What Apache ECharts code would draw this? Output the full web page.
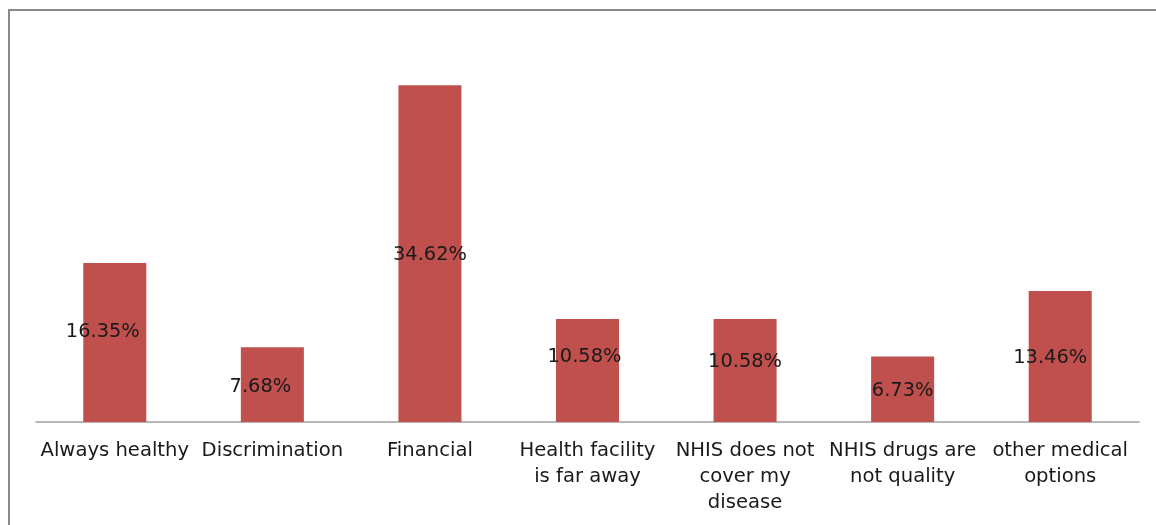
<!DOCTYPE html>
<html>
<head>
<meta charset="utf-8">
<script src="https://cdn.jsdelivr.net/npm/echarts@6/dist/echarts.min.js"></script>
<style>
  html, body { margin: 0; padding: 0; background: #fff; }
  #chart { width: 1156px; height: 525px; }
</style>
</head>
<body>
<div id="chart"></div>
<script>
// Reasons given for not using NHIS (share of respondents, %)
const categories = [
  'Always healthy',
  'Discrimination',
  'Financial',
  'Health facility\nis far away',
  'NHIS does not\ncover my\ndisease',
  'NHIS drugs are\nnot quality',
  'other medical\noptions'
];
const shares = [16.35, 7.68, 34.62, 10.58, 10.58, 6.73, 13.46];

// Hand-placed label nudges [dx, dy] in pixels
const labelNudges = [[-12, -11], [-12, 2], [0, 1], [-3, -14], [0, -9], [0, 2], [-10, 1]];

const chart = echarts.init(document.getElementById('chart'));

const seriesData = shares.map((v, i) => ({
  value: v,
  label: { offset: labelNudges[i] }
}));

chart.setOption({
  animation: false,
  backgroundColor: '#ffffff',
  graphic: [{
    type: 'rect',
    shape: { x: 9, y: 10, width: 1300, height: 700 },
    style: { fill: 'none', stroke: '#8a8a8a', lineWidth: 2 },
    silent: true
  }],
  grid: { left: 36, right: 17, top: 33, bottom: 103, containLabel: false },
  xAxis: {
    type: 'category',
    data: categories,
    axisLine: { lineStyle: { color: '#a0a0a0', width: 1.5 } },
    axisTick: { show: false },
    axisLabel: {
      interval: 0,
      hideOverlap: false,
      margin: 16,
      color: '#1a1a1a',
      fontFamily: 'DejaVu Sans',
      fontSize: 19.6,
      lineHeight: 26,
      align: 'center'
    }
  },
  yAxis: {
    type: 'value',
    min: 0,
    max: 40,
    show: false,
    splitLine: { show: false }
  },
  series: [{
    type: 'bar',
    data: seriesData,
    barWidth: '40%',
    itemStyle: { color: '#C0504D' },
    label: {
      show: true,
      position: 'inside',
      color: '#1a1a1a',
      fontFamily: 'DejaVu Sans',
      fontSize: 19.4,
      formatter: p => p.value.toFixed(2) + '%'
    }
  }]
});
</script>
</body>
</html>
